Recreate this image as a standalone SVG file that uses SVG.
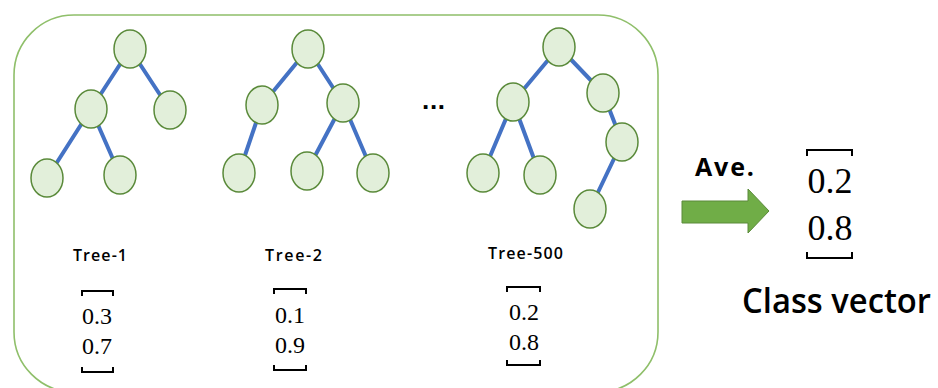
<svg xmlns="http://www.w3.org/2000/svg" width="938" height="388" viewBox="0 0 938 388">
  <style>
    .frame { fill: none; stroke: #8fbf6a; stroke-width: 1.6; }
    .node { fill: #e2efda; stroke: #5a8a3a; stroke-width: 1.5; }
    .edge { stroke: #4472c4; stroke-width: 4; stroke-linecap: round; }
    .label { font-family: "Open Sans", "Noto Sans", sans-serif; font-weight: 600; fill: #000; }
    .title { font-family: "Open Sans", "Noto Sans", sans-serif; font-weight: bold; fill: #000; }
    .num { font-family: "Liberation Serif", "DejaVu Serif", serif; fill: #000; }
    .bracket { fill: none; stroke: #000; stroke-width: 2; }
  </style>

  <!-- outer frame holding the forest -->
  <rect class="frame" x="14" y="15" width="644" height="377" rx="60" ry="60"/>

  <!-- tree edges -->
  <g id="connectors">
    <!-- Tree-1 -->
    <line class="edge" x1="130" y1="49" x2="91" y2="109"/>
    <line class="edge" x1="130" y1="49" x2="170" y2="110"/>
    <line class="edge" x1="91" y1="109" x2="47" y2="178"/>
    <line class="edge" x1="91" y1="109" x2="120" y2="175"/>
    <!-- Tree-2 -->
    <line class="edge" x1="308" y1="49" x2="262" y2="105"/>
    <line class="edge" x1="308" y1="49" x2="343" y2="103"/>
    <line class="edge" x1="262" y1="105" x2="239" y2="173"/>
    <line class="edge" x1="343" y1="103" x2="307" y2="171"/>
    <line class="edge" x1="343" y1="103" x2="373" y2="173"/>
    <!-- Tree-500 -->
    <line class="edge" x1="559" y1="47" x2="513" y2="102"/>
    <line class="edge" x1="559" y1="47" x2="603" y2="93"/>
    <line class="edge" x1="513" y1="102" x2="483" y2="173"/>
    <line class="edge" x1="513" y1="102" x2="540" y2="175"/>
    <line class="edge" x1="603" y1="93" x2="622" y2="142"/>
    <line class="edge" x1="622" y1="142" x2="590" y2="209"/>
  </g>

  <!-- Tree-1 -->
  <g id="tree1">
    <ellipse class="node" cx="130" cy="49" rx="16" ry="19"/>
    <ellipse class="node" cx="91" cy="109" rx="16" ry="19"/>
    <ellipse class="node" cx="170" cy="110" rx="16" ry="19"/>
    <ellipse class="node" cx="47" cy="178" rx="16" ry="19"/>
    <ellipse class="node" cx="120" cy="175" rx="16" ry="19"/>
    <text class="label" x="73" y="261" font-size="16" textLength="54" lengthAdjust="spacing">Tree-1</text>
    <path class="bracket" d="M82,296 V291 H113 V296"/>
    <text class="num" x="97" y="324" font-size="24" text-anchor="middle">0.3</text>
    <text class="num" x="97" y="354" font-size="24" text-anchor="middle">0.7</text>
    <path class="bracket" d="M82,367 V372 H113 V367"/>
  </g>

  <!-- Tree-2 -->
  <g id="tree2">
    <ellipse class="node" cx="308" cy="49" rx="16" ry="19"/>
    <ellipse class="node" cx="262" cy="105" rx="16" ry="19"/>
    <ellipse class="node" cx="343" cy="103" rx="16" ry="19"/>
    <ellipse class="node" cx="239" cy="173" rx="16" ry="19"/>
    <ellipse class="node" cx="307" cy="171" rx="16" ry="19"/>
    <ellipse class="node" cx="373" cy="173" rx="16" ry="19"/>
    <text class="label" x="265" y="261" font-size="16" textLength="57" lengthAdjust="spacing">Tree-2</text>
    <path class="bracket" d="M274,294 V289 H306 V294"/>
    <text class="num" x="290" y="323" font-size="24" text-anchor="middle">0.1</text>
    <text class="num" x="290" y="353" font-size="24" text-anchor="middle">0.9</text>
    <path class="bracket" d="M274,365 V370 H306 V365"/>
  </g>

  <!-- ellipsis between trees -->
  <text id="ellipsis" x="422" y="109" font-family="Liberation Sans, sans-serif" font-weight="bold" font-size="26" textLength="23" lengthAdjust="spacing">...</text>

  <!-- Tree-500 -->
  <g id="tree500">
    <ellipse class="node" cx="559" cy="47" rx="16" ry="19"/>
    <ellipse class="node" cx="513" cy="102" rx="16" ry="19"/>
    <ellipse class="node" cx="603" cy="93" rx="16" ry="19"/>
    <ellipse class="node" cx="483" cy="173" rx="16" ry="19"/>
    <ellipse class="node" cx="540" cy="175" rx="16" ry="19"/>
    <ellipse class="node" cx="622" cy="142" rx="16" ry="19"/>
    <ellipse class="node" cx="590" cy="209" rx="16" ry="19"/>
    <text class="label" x="488" y="259" font-size="16" textLength="75" lengthAdjust="spacing">Tree-500</text>
    <path class="bracket" d="M507,292 V287 H540 V292"/>
    <text class="num" x="524" y="320" font-size="24" text-anchor="middle">0.2</text>
    <text class="num" x="524" y="350" font-size="24" text-anchor="middle">0.8</text>
    <path class="bracket" d="M507,360 V365 H540 V360"/>
  </g>

  <!-- averaging arrow -->
  <g id="average">
    <text class="title" x="695" y="176" font-size="25" textLength="59" lengthAdjust="spacing">Ave.</text>
    <polygon points="682,201 748,201 748,189 769,211 748,233 748,223 682,223" fill="#70ad47" stroke="#5a8a3a" stroke-width="1"/>
  </g>

  <!-- resulting class vector -->
  <g id="class-vector">
    <path class="bracket" d="M807,156 V150 H852 V156"/>
    <text class="num" x="830" y="193" font-size="36" text-anchor="middle">0.2</text>
    <text class="num" x="830" y="240" font-size="36" text-anchor="middle">0.8</text>
    <path class="bracket" d="M807,252 V258 H852 V252"/>
    <text class="label" x="742" y="313" font-size="34" textLength="189" lengthAdjust="spacingAndGlyphs">Class vector</text>
  </g>
</svg>
